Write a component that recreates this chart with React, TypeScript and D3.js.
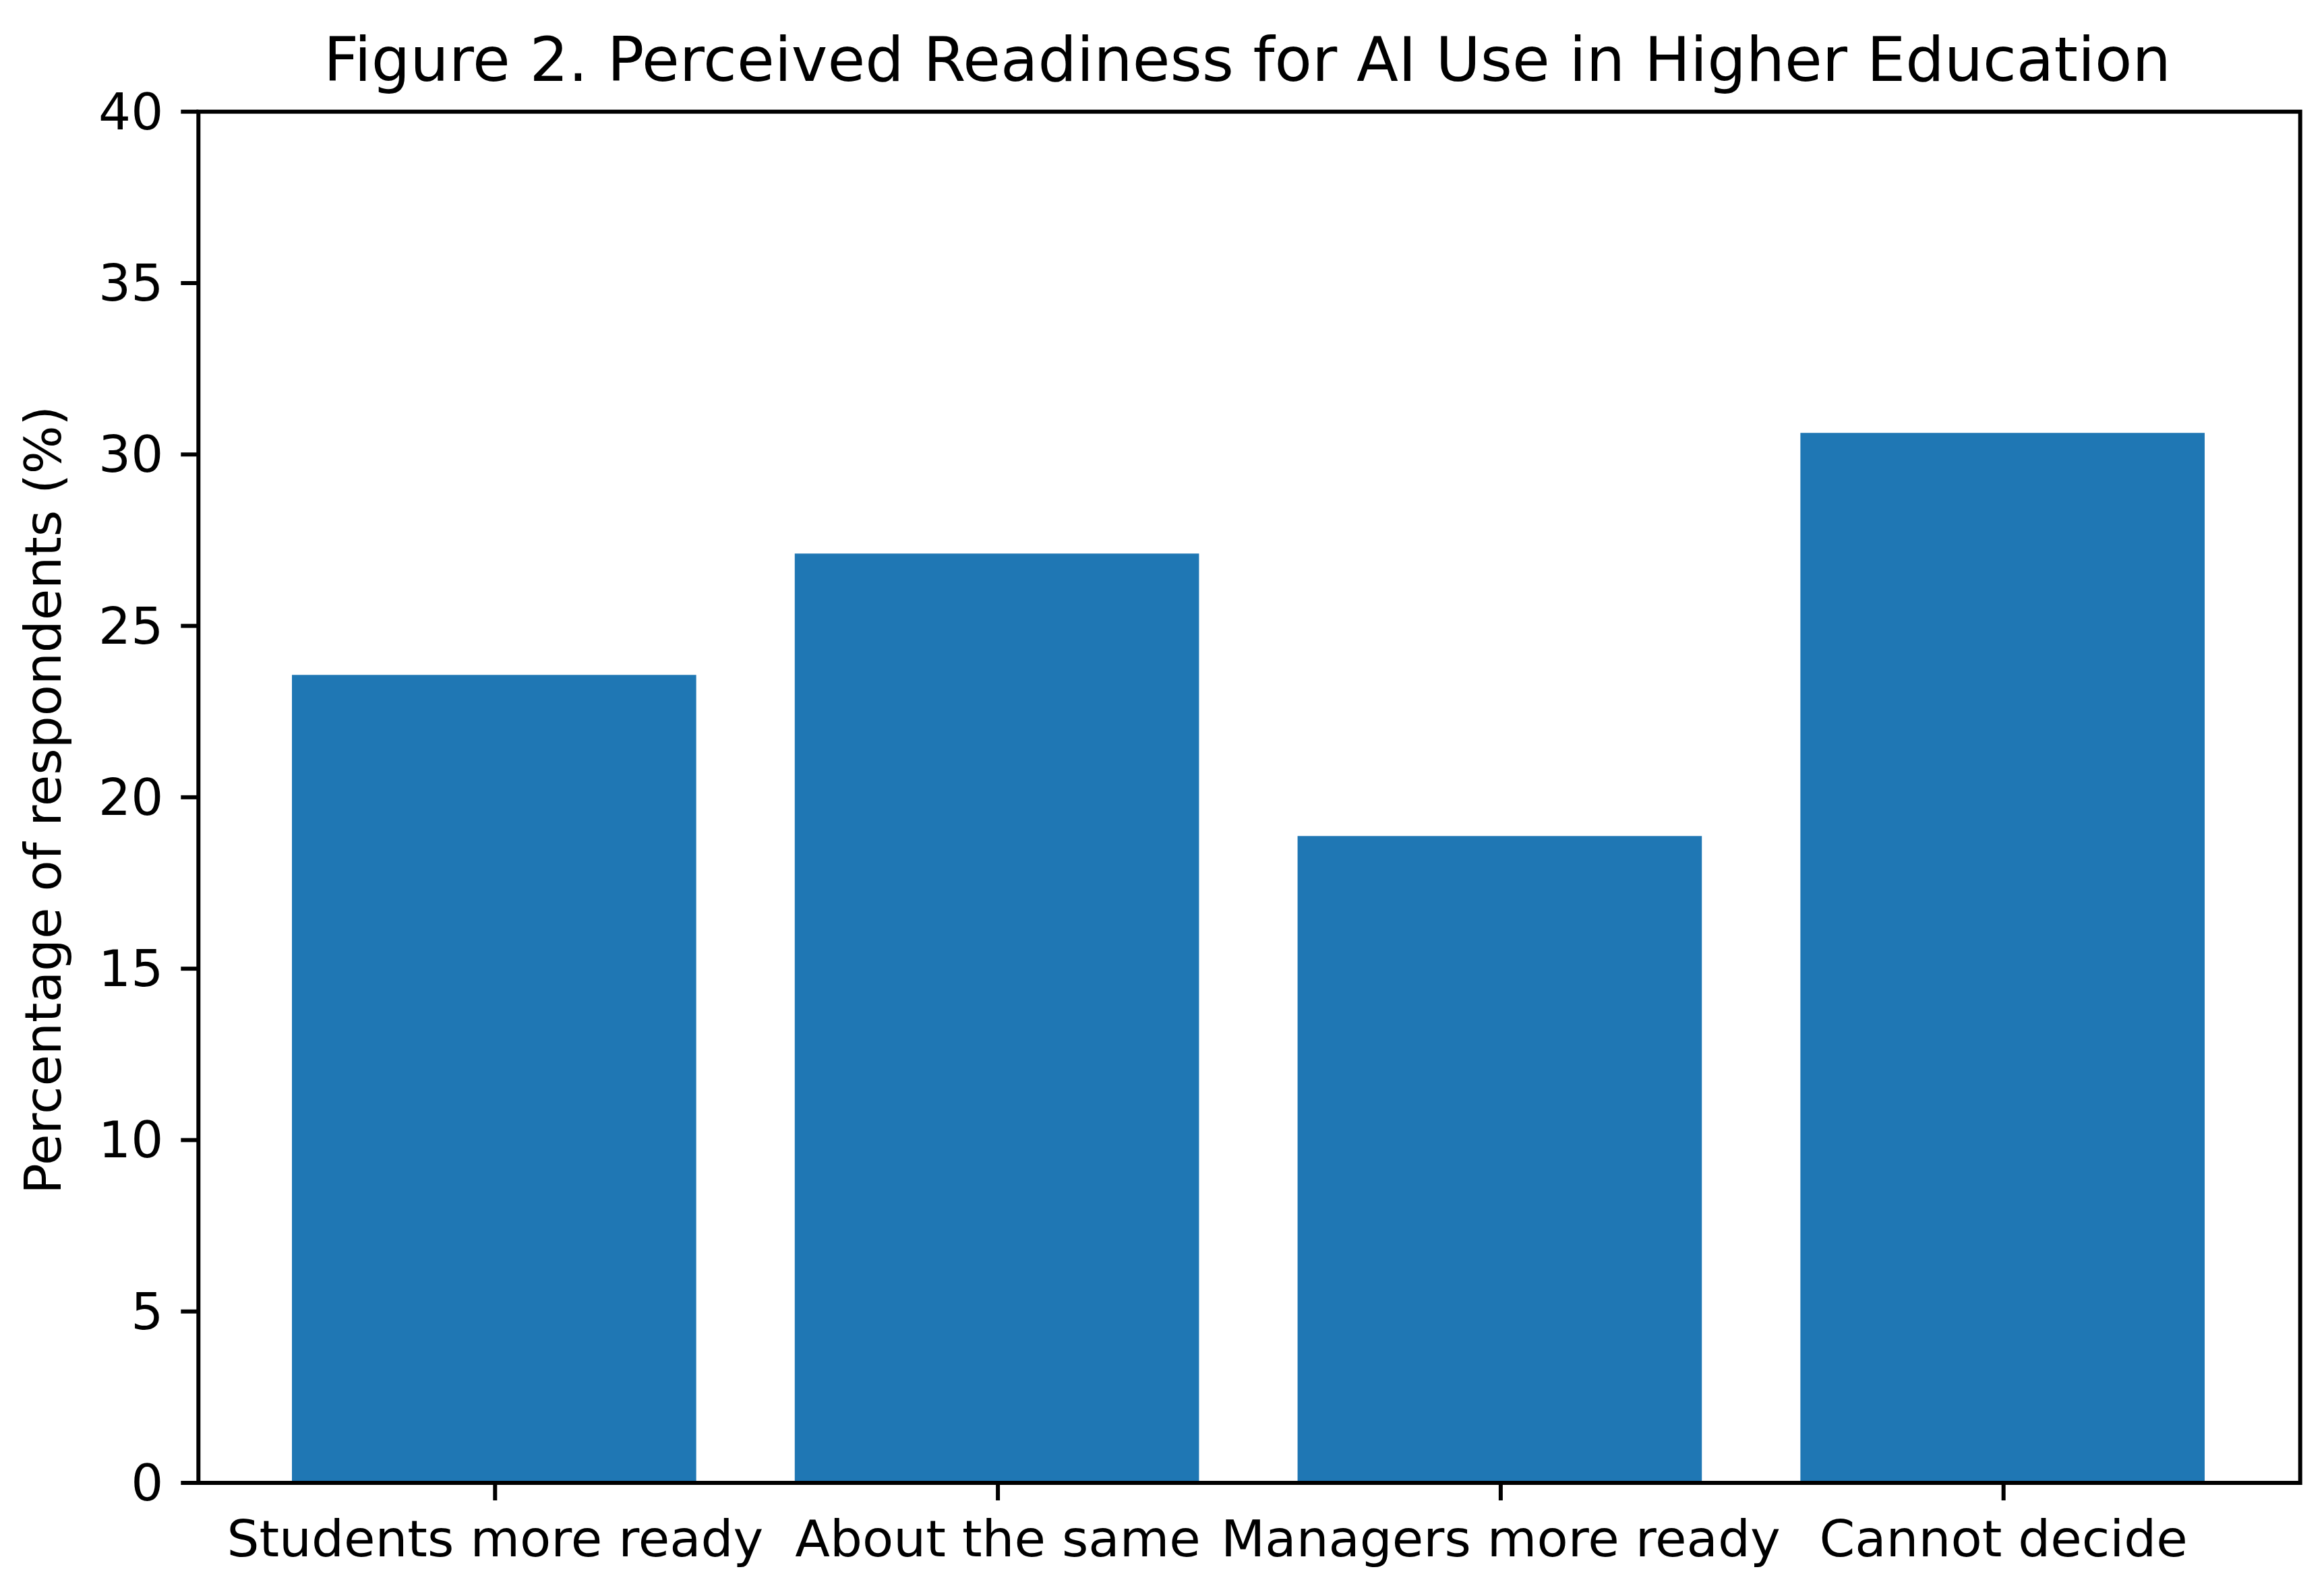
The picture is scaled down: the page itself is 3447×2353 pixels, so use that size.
import React from "react";
import * as d3 from "d3";

const categories = ["Students more ready", "About the same", "Managers more ready", "Cannot decide"];
const values = [23.57, 27.11, 18.87, 30.63];
const yTicks = [0, 5, 10, 15, 20, 25, 30, 35, 40];
const title = "Figure 2. Perceived Readiness for AI Use in Higher Education";
const yLabel = "Percentage of respondents (%)";

const W = 3447;
const H = 2353;
const left = 294.3;
const right = 3411.7;
const top = 165.7;
const bottom = 2200;
const font = "'DejaVu Sans', sans-serif";
const tickFont = 75.6;
const titleFont = 90.6;
const tickLen = 26;
const pad = 26;
const lw = 6;

export default function App() {
  const x = d3.scaleBand<string>().domain(categories).range([left, right]).paddingInner(0.2).paddingOuter(0.19);
  const y = d3.scaleLinear().domain([0, 40]).range([bottom, top]);

  return (
    <svg
      width={W}
      height={H}
      viewBox={`0 0 ${W} ${H}`}
      style={{ position: "fixed", left: 0, top: 0, background: "#ffffff" }}
    >
      <rect x={0} y={0} width={W} height={H} fill="#ffffff" />
      {categories.map((c, i) => (
        <rect
          key={c}
          x={(x(c) as number) - 3}
          y={y(values[i])}
          width={x.bandwidth() + 3}
          height={bottom - y(values[i])}
          fill="#1f77b4"
        />
      ))}
      <rect x={left} y={top} width={right - left} height={bottom - top} fill="none" stroke="#000" strokeWidth={lw} />
      {yTicks.map((t) => (
        <g key={t}>
          <line x1={left - tickLen} x2={left} y1={y(t)} y2={y(t)} stroke="#000" strokeWidth={lw} />
          <text
            x={left - tickLen - pad}
            y={y(t)}
            textAnchor="end"
            dominantBaseline="central"
            fontFamily={font}
            fontSize={tickFont}
            fill="#000"
          >
            {t}
          </text>
        </g>
      ))}
      {categories.map((c) => {
        const cx = (x(c) as number) + x.bandwidth() / 2;
        return (
          <g key={c}>
            <line x1={cx} x2={cx} y1={bottom} y2={bottom + tickLen} stroke="#000" strokeWidth={lw} />
            <text
              x={cx}
              y={bottom + tickLen + pad + 0.76 * tickFont}
              textAnchor="middle"
              fontFamily={font}
              fontSize={tickFont}
              fill="#000"
            >
              {c}
            </text>
          </g>
        );
      })}
      <text
        transform={`translate(90, ${(top + bottom) / 2 + 4}) rotate(-90)`}
        textAnchor="middle"
        fontFamily={font}
        fontSize={tickFont}
        fill="#000"
      >
        {yLabel}
      </text>
      <text
        x={(left + right) / 2 - 3}
        y={120}
        textAnchor="middle"
        fontFamily={font}
        fontSize={titleFont}
        fill="#000"
      >
        {title}
      </text>
    </svg>
  );
}
